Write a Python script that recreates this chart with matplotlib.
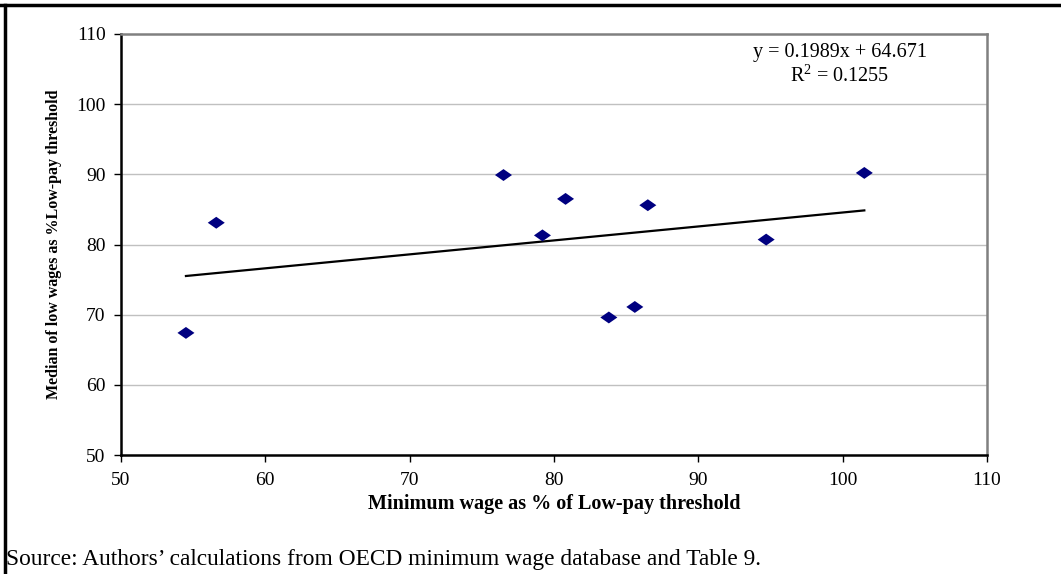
import numpy as np
import matplotlib
matplotlib.use("Agg")
from matplotlib import pyplot as plt

# values
min_wage_pct = [54.5, 56.6, 76.5, 79.2, 80.8, 83.8, 85.6, 86.5, 94.7, 101.5]
median_low_pct = [67.4, 83.1, 89.9, 81.3, 86.5, 69.6, 71.1, 85.6, 80.7, 90.2]
trend_slope = 0.1989
trend_intercept = 64.671
r_squared = 0.1255
x_ticks = [50, 60, 70, 80, 90, 100, 110]
y_ticks = [50, 60, 70, 80, 90, 100, 110]

plt.rcParams['font.family'] = ['Liberation Serif', 'DejaVu Serif']

fig = plt.figure(figsize=(10.61, 5.74), dpi=100)
ax = fig.add_axes([121 / 1061, 1 - 455 / 574, 866 / 1061, 421 / 574])

# outer frame of the figure box (top and left edge only are visible)
fig.add_artist(plt.Line2D([0, 1], [1 - 5 / 574, 1 - 5 / 574], color='black', lw=2.5,
                          transform=fig.transFigure))
fig.add_artist(plt.Line2D([5 / 1061, 5 / 1061], [0, 1 - 5 / 574], color='black', lw=2.5,
                          transform=fig.transFigure))

for y in y_ticks[1:-1]:
    ax.axhline(y, color='#c0c0c0', lw=1.0, zorder=0)

diamond = [(-1, 0), (0, 0.7), (1, 0), (0, -0.7), (-1, 0)]
ax.scatter(min_wage_pct, median_low_pct, marker=diamond, s=150, color='#000080',
           edgecolors='none', zorder=3)

xs = np.array([min(min_wage_pct), max(min_wage_pct)])
ax.plot(xs, trend_slope * xs + trend_intercept, color='black', lw=1.6, zorder=2)

ax.set_xlim(x_ticks[0], x_ticks[-1])
ax.set_ylim(y_ticks[0], y_ticks[-1])
ax.set_xticks(x_ticks)
ax.set_yticks(y_ticks)
ax.tick_params(axis='both', direction='out', length=5, width=1)
ax.tick_params(axis='y', labelsize=14, pad=6)
ax.tick_params(axis='x', labelsize=14, pad=7)

for side in ['left', 'bottom']:
    ax.spines[side].set_color('black')
    ax.spines[side].set_linewidth(1.8)
for side in ['top', 'right']:
    ax.spines[side].set_color('#808080')
    ax.spines[side].set_linewidth(1.8)

ax.set_xlabel('Minimum wage as % of Low-pay threshold', fontsize=14.5, fontweight='bold', labelpad=4)
ax.set_ylabel('Median of low wages as %Low-pay threshold', fontsize=11.5, fontweight='bold', labelpad=10)

fig.text(840 / 1061, 1 - 53 / 574, 'y = %.4fx + %.3f' % (trend_slope, trend_intercept),
         fontsize=14.5, ha='center', va='center')
fig.text(840 / 1061, 1 - 76 / 574, '$\\mathregular{R^2}$ = %.4f' % r_squared,
         fontsize=14.5, ha='center', va='center')

fig.text(6 / 1061, 1 - 560 / 574,
         'Source: Authors\u2019 calculations from OECD minimum wage database and Table 9.',
         fontsize=16.8, ha='left', va='center')

fig.savefig('out.png', dpi=100)
